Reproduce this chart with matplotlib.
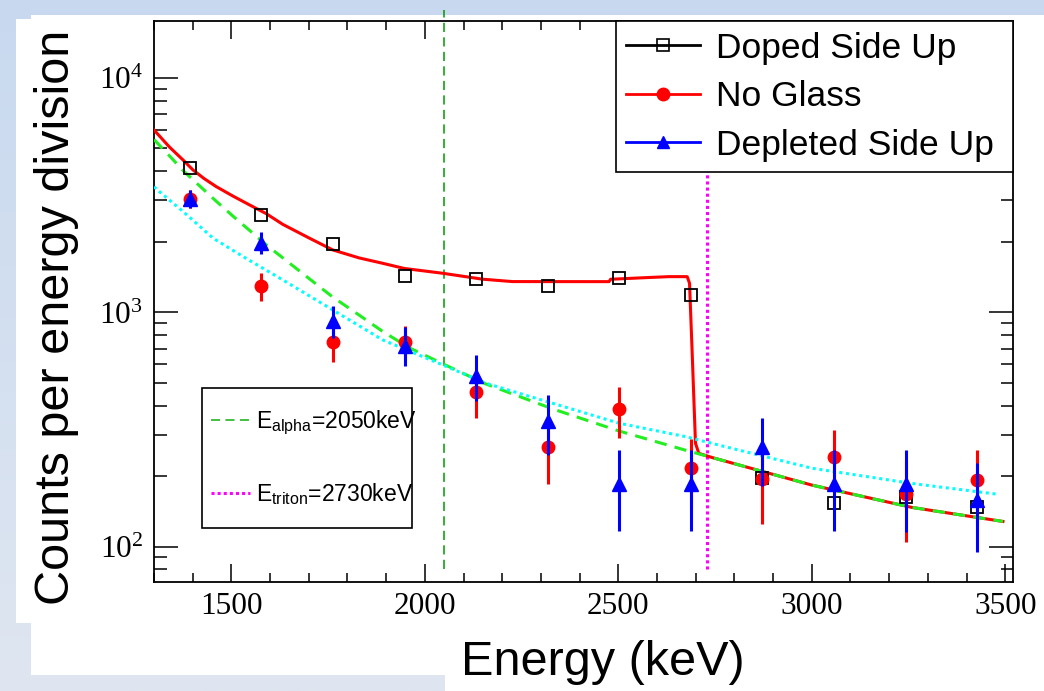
import numpy as np
import matplotlib
matplotlib.use('Agg')
import matplotlib.pyplot as plt
from matplotlib.lines import Line2D
from matplotlib.patches import Rectangle
from matplotlib.colors import LinearSegmentedColormap
from matplotlib.ticker import MultipleLocator, LogLocator, FuncFormatter, NullFormatter

plt.rcParams['font.family'] = 'Liberation Sans'
plt.rcParams['mathtext.fontset'] = 'custom'
plt.rcParams['mathtext.rm'] = 'Liberation Serif'
plt.rcParams['mathtext.sf'] = 'Liberation Sans'

# bin centres (keV)
energy = [1392.5, 1577.5, 1762.5, 1947.5, 2132.5, 2317.5,
          2502.5, 2687.5, 2872.5, 3057.5, 3242.5, 3427.5]

# measured spectra
doped = [4140, 2594, 1956, 1432, 1383, 1299, 1397, 1182, 197, 153, 162, 147]

noglass = [3030, 1300, 745, 749, 458, 266, 386, 216, 194, 241, 167, 192]
noglass_hi = [3324, 1475, 870, 874, 565, 350, 481, 287, 262, 315, 232, 258]
noglass_lo = [2786, 1121, 612, 630, 353, 185, 290, 145, 125, 170, 105, 126]

depleted = [3050, 1970, 921, 718, 535, 344, 184.5, 184.5, 266, 184.5, 184.5, 158]
depleted_hi = [3324, 2208, 1064, 868, 655, 443, 258, 258, 353, 258, 258, 227]
depleted_lo = [2786, 1774, 780, 590, 419, 245, 117, 117, 181, 117, 115, 95]

# fitted curves
fit_doped_e = [1300, 1340, 1375, 1401, 1430, 1461, 1505, 1547, 1590, 1633, 1702,
               1762, 1830, 1891, 1947, 2046, 2149, 2226, 2476, 2480, 2570, 2630,
               2678, 2684, 2690.6, 2699.4, 2708, 2742, 3000, 3258, 3494]
fit_doped = [5998, 5070, 4467, 4046, 3715, 3436, 3126, 2871, 2636, 2371, 2070,
             1845, 1706, 1618, 1538, 1467, 1384, 1352, 1351, 1383, 1405, 1419,
             1419, 1330, 690, 276, 250, 240, 183, 147, 128]

fit_noglass_e = [1300, 1340, 1375, 1420, 1460, 1505, 1550, 1590, 1633, 1700, 1762,
                 1830, 1891, 1960, 2046, 2158, 2330, 2500, 2673, 2742, 3000, 3258, 3494]
fit_noglass = [5458, 4650, 4027, 3436, 2985, 2564, 2213, 1940, 1706, 1396, 1161,
               973, 828, 705, 603, 494, 387, 312, 258, 240, 183, 147, 128]

fit_depleted_e = [1300, 1311, 1375, 1453, 1540, 1633, 1762, 1891, 2046, 2158,
                  2330, 2502, 2674, 2760, 3000, 3258, 3483]
fit_depleted = [3432, 3304, 2692, 2069, 1690, 1374, 1023, 762, 596, 497.5,
                409, 336, 294.5, 271, 216, 186, 167]

e_alpha = 2050
e_triton = 2730

fig = plt.figure(figsize=(10.44, 6.91), dpi=100)

# slide background
bg = fig.add_axes([0, 0, 1, 1])
bg.set_axis_off()
cmap = LinearSegmentedColormap.from_list('slide', ['#c8d9ef', '#dfe6f1'])
bg.imshow(np.linspace(0, 1, 256).reshape(-1, 1), cmap=cmap, aspect='auto',
          extent=[0, 1044, 691, 0])
for (x0, y0, w, h) in [(16, 19, 1028, 604), (31, 15, 1013, 660), (445, 675, 599, 16)]:
    bg.add_patch(Rectangle((x0, y0), w, h, color='white', lw=0))
bg.set_xlim(0, 1044)
bg.set_ylim(691, 0)

ax = fig.add_axes([154 / 1044, 1 - 582 / 691, 859 / 1044, 561 / 691])

ax.plot(fit_doped_e, fit_doped, color='red', lw=2.2, zorder=3)
ax.plot(fit_noglass_e, fit_noglass, color='#22ee22', lw=2.2, dashes=(4, 2.7), zorder=3)
ax.plot(fit_depleted_e, fit_depleted, color='#00ffff', lw=2.2, dashes=(1, 1.2), zorder=3)

ax.plot([e_alpha, e_alpha], [80, 19500], color='#009900', lw=1.1, dashes=(6, 3.5),
        clip_on=False, zorder=2)
ax.plot([e_triton, e_triton], [80, 19500], color='#ff00ff', lw=2.2, dashes=(1, 1),
        zorder=2)

ax.plot(energy, doped, ls='none', marker='s', ms=9, mfc='none', mec='k', mew=1.3, zorder=4)

nglo = np.array(noglass) - np.array(noglass_lo)
nghi = np.array(noglass_hi) - np.array(noglass)
ax.errorbar(energy, noglass, yerr=[nglo, nghi], fmt='o', color='red', ms=9,
            elinewidth=2.2, capsize=0, zorder=5)

dplo = np.array(depleted) - np.array(depleted_lo)
dphi = np.array(depleted_hi) - np.array(depleted)
ax.errorbar(energy, depleted, yerr=[dplo, dphi], fmt='^', color='blue', ms=9.5,
            elinewidth=2.2, capsize=0, zorder=6)

ax.set_xlim(1300, 3520)
ax.set_yscale('log')
ax.set_ylim(70.6, 17500)

ax.xaxis.set_major_locator(MultipleLocator(500))
ax.xaxis.set_minor_locator(MultipleLocator(100))
ax.yaxis.set_major_locator(LogLocator(base=10))
ax.yaxis.set_minor_locator(LogLocator(base=10, subs=range(2, 10)))
ax.yaxis.set_major_formatter(FuncFormatter(lambda v, p: r'$\mathrm{10^{%d}}$' % round(np.log10(v))))
ax.yaxis.set_minor_formatter(NullFormatter())

ax.tick_params(which='both', direction='in', top=True, right=True, width=1.1)
ax.tick_params(axis='x', which='major', length=13, labelsize=22.5,
               labelfontfamily='Liberation Serif', pad=7)
ax.tick_params(axis='x', which='minor', length=6.5)
ax.tick_params(axis='y', which='major', length=17.5, labelsize=22.5, pad=8)
ax.tick_params(axis='y', which='minor', length=9)
for s in ax.spines.values():
    s.set_linewidth(1.3)

# main legend, stretched to the right part of the frame
handles = [
    Line2D([], [], color='k', lw=2, marker='s', ms=8, mfc='none', mec='k', mew=1.2),
    Line2D([], [], color='red', lw=2, marker='o', ms=9),
    Line2D([], [], color='blue', lw=2, marker='^', ms=9),
]
leg1 = ax.legend(handles, ['Doped Side Up', 'No Glass', 'Depleted Side Up'],
                 loc='upper right', bbox_to_anchor=(0.5375, 0, 0.4625, 1), mode='expand',
                 borderaxespad=0, fancybox=False, edgecolor='k', framealpha=1,
                 fontsize=25.5, handlelength=2.09, handletextpad=0.45,
                 labelspacing=0.44, borderpad=0.3, numpoints=1)
leg1.get_frame().set_linewidth(1.2)
ax.add_artist(leg1)

# energy-marker box (text runs over its right edge, like the original)
ax.add_patch(Rectangle((0.0559, 0.0957), 0.2445, 0.2496, transform=ax.transAxes,
                       facecolor='white', edgecolor='k', lw=1.2, zorder=7))
handles2 = [
    Line2D([], [], color='#33bb33', lw=1.3, dashes=(5, 3)),
    Line2D([], [], color='#ff00ff', lw=2.2, dashes=(1, 1)),
]
leg2 = ax.legend(handles2, [r'E$_{\mathsf{alpha}}$=2050keV', r'E$_{\mathsf{triton}}$=2730keV'],
                 loc='upper left', bbox_to_anchor=(0.0419, 0.3453), borderaxespad=0,
                 frameon=False, fontsize=16.5, handlelength=1.7, handletextpad=0.3,
                 labelspacing=1.9, borderpad=0.9)
leg2.set_zorder(8)

fig.text(603 / 1044, 1 - 675 / 691, 'Energy (keV)', fontsize=35, ha='center', va='baseline')
fig.text(57 / 1044, 1 - 317 / 691, 'Counts per energy division', fontsize=35,
         rotation=90, ha='center', va='center')

fig.savefig('out.png', dpi=100)
